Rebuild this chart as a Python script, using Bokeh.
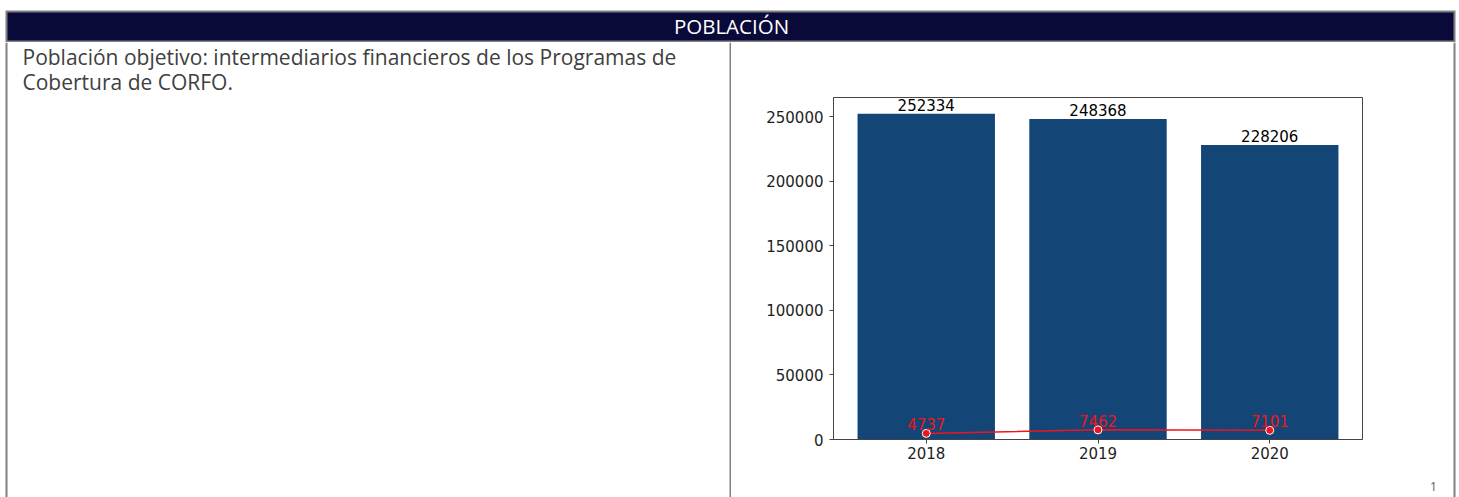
from bokeh.plotting import figure
from bokeh.layouts import column, row
from bokeh.models import Range1d, FixedTicker, NumeralTickFormatter
from bokeh.core.properties import value
from bokeh.embed import file_html
from bokeh.resources import INLINE

# ---- data ----
years = [2018, 2019, 2020]
bar_values = [252334, 248368, 228206]
line_values = [4737, 7462, 7101]
y_ticks = [0, 50000, 100000, 150000, 200000, 250000]
header_title = "POBLACIÓN"
desc_lines = ["Población objetivo: intermediarios financieros de los Programas de",
              "Cobertura de CORFO."]
page_number = "1"

# ---- styles ----
BAR = "#134676"
RED = "#f0141e"
GREY = "#808080"
NAVY = "#0a0a3a"
AX = "#444444"
TXT = "#1e1e1e"
DESC = "#404040"


def canvas(x0, x1, y0, y1):
    """Helper figure whose frame fills the canvas; coordinates are page pixels."""
    f = figure(width=x1 - x0, height=y1 - y0, output_backend="svg", toolbar_location=None,
               x_range=Range1d(x0, x1), y_range=Range1d(y1, y0),
               x_axis_location=None, y_axis_location=None, min_border=0,
               frame_align=False)
    f.outline_line_color = None
    f.background_fill_color = "white"
    f.border_fill_color = "white"
    f.grid.visible = False
    return f


# header strip (page y 0..42)
hdr = canvas(0, 1459, 0, 42)
hdr.quad(left=[5], right=[1455], top=[10], bottom=[42], fill_color=GREY, line_color=None)
hdr.quad(left=[7], right=[1453], top=[12], bottom=[40], fill_color=NAVY, line_color=None)
hdr.text(x=[731], y=[39], text=[header_title], text_align="center", text_baseline="bottom",
         text_color="white", text_font=value("Open Sans"), text_font_size="20.5px")

# left cell (page x 0..731, y 42..497)
left = canvas(0, 731, 42, 497)
left.quad(left=[5], right=[7], top=[42], bottom=[497], fill_color=GREY, line_color=None)
left.quad(left=[729], right=[731], top=[42], bottom=[497], fill_color=GREY, line_color=None)
left.text(x=[22, 22], y=[70, 95], text=desc_lines, text_align="left",
          text_baseline="bottom", text_color=DESC,
          text_font=value("Open Sans"), text_font_size="21px")

# chart (page x 731..1380, frame 833..1362 x 97..439)
CX0, CX1, CY0, CY1 = 731, 1380, 42, 497
p = figure(width=CX1 - CX0, height=CY1 - CY0, output_backend="svg", toolbar_location=None,
           x_range=Range1d(2017.46, 2020.54), y_range=Range1d(0, 264950),
           min_border_left=833 - CX0, min_border_right=CX1 - 1362,
           min_border_top=97 - CY0, min_border_bottom=CY1 - 439,
           frame_align=False)
p.background_fill_color = "white"
p.border_fill_color = "white"
p.xgrid.visible = False
p.ygrid.visible = False
p.outline_line_color = AX
p.outline_line_width = 1

p.xaxis.ticker = FixedTicker(ticks=years)
p.yaxis.ticker = FixedTicker(ticks=y_ticks)
p.yaxis.formatter = NumeralTickFormatter(format="0")
p.axis.minor_tick_line_color = None
p.axis.major_tick_in = 0
p.axis.major_tick_out = 4
p.axis.axis_line_color = AX
p.axis.major_tick_line_color = AX
p.axis.major_label_text_font = "DejaVu Sans"
p.axis.major_label_text_font_size = "15px"
p.axis.major_label_text_color = TXT
p.xaxis.major_label_standoff = 3
p.yaxis.major_label_standoff = 6

p.vbar(x=years, top=bar_values, bottom=0, width=0.8, fill_color=BAR, line_color=None)
p.text(x=years, y=bar_values, text=[str(v) for v in bar_values],
       text_align="center", text_baseline="bottom", text_color="black",
       text_font=value("DejaVu Sans"), text_font_size="15px", y_offset=-3)

p.line(x=years, y=line_values, line_color=RED, line_width=1.5)
p.scatter(x=years, y=line_values, size=8, fill_color=RED, line_color="white", line_width=1)
p.text(x=years, y=line_values, text=[str(v) for v in line_values],
       text_align="center", text_baseline="bottom", text_color=RED,
       text_font=value("DejaVu Sans"), text_font_size="15px", y_offset=-3)

# right strip (page x 1380..1459)
right = canvas(1380, 1459, 42, 497)
right.quad(left=[1453], right=[1455], top=[42], bottom=[497], fill_color=GREY, line_color=None)
right.text(x=[1433], y=[490], text=[page_number], text_align="center",
           text_baseline="bottom", text_color="#595959",
           text_font=value("Open Sans"), text_font_size="12px")

layout = column(hdr, row(left, p, right, spacing=0), spacing=0)
open("out.html", "w").write(file_html(layout, INLINE))
